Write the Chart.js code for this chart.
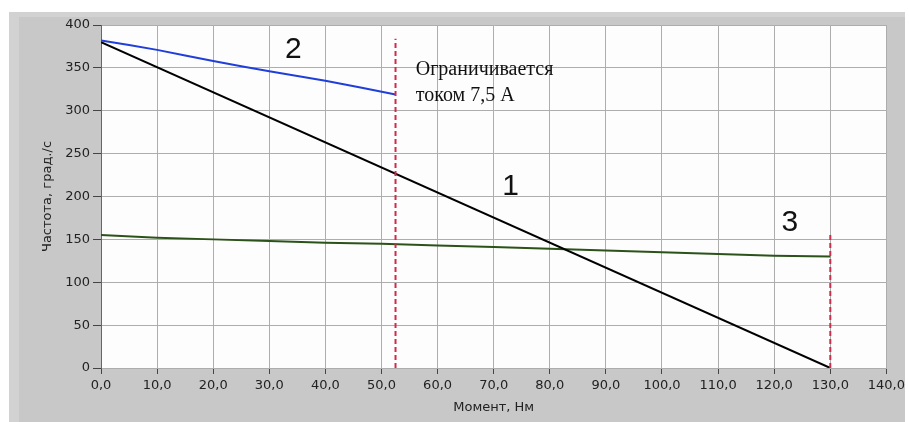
<!DOCTYPE html>
<html>
<head>
<meta charset="utf-8">
<script src="https://cdn.jsdelivr.net/npm/chart.js@4/dist/chart.umd.min.js"></script>
<style>
  html, body { margin: 0; padding: 0; background: #fff; }
  #wrap { width: 909px; height: 422px; }
</style>
</head>
<body>
<div id="wrap"><canvas id="motor-chart"></canvas></div>
<script>
// curve 1 - black
const torque1 = [0, 130];
const speed1 = [380, 0];
// curve 2 - blue (current limited)
const torque2 = [0, 10, 20, 30, 40, 52.5];
const speed2 = [382, 371, 358, 346, 335, 319];
// curve 3 - green
const torque3 = [0, 10, 20, 30, 40, 50, 60, 70, 80, 90, 100, 110, 120, 130];
const speed3 = [155, 152, 150, 148, 146, 145, 143, 141, 139, 137, 135, 133, 131, 130];
// red dashed limit lines
const limitA = { x: 52.5, top: 384 };
const limitB = { x: 130, top: 156 };

const xMin = 0, xMax = 140, xStep = 10;
const yMin = 0, yMax = 400, yStep = 50;

const curveLabels = [
  { text: '2', x: 34.3, y: 371 },
  { text: '1', x: 73, y: 211 },
  { text: '3', x: 122.8, y: 169 }
];
const noteLines = ['Ограничивается', 'током 7,5 А'];
const notePos = { x: 56.1, y: [348, 318] };

function toPoints(xs, ys) {
  return xs.map((x, i) => ({ x: x, y: ys[i] }));
}

const data = {
  datasets: [
    {
      label: 'limit A',
      data: [{ x: limitA.x, y: 0 }, { x: limitA.x, y: limitA.top }],
      borderColor: '#d3294a',
      borderWidth: 2,
      borderDash: [5, 3],
      pointRadius: 0
    },
    {
      label: 'limit B',
      data: [{ x: limitB.x, y: 0 }, { x: limitB.x, y: limitB.top }],
      borderColor: '#d3294a',
      borderWidth: 2,
      borderDash: [5, 3],
      pointRadius: 0
    },
    {
      label: '2',
      data: toPoints(torque2, speed2),
      borderColor: '#1f3fd8',
      borderWidth: 2,
      pointRadius: 0,
      tension: 0.2
    },
    {
      label: '1',
      data: toPoints(torque1, speed1),
      borderColor: '#000000',
      borderWidth: 2,
      pointRadius: 0
    },
    {
      label: '3',
      data: toPoints(torque3, speed3),
      borderColor: '#2b5219',
      borderWidth: 2,
      pointRadius: 0
    }
  ]
};

// gray frame and white plot area
const backdrop = {
  id: 'backdrop',
  beforeDraw(chart) {
    const { ctx, chartArea: a } = chart;
    ctx.save();
    ctx.fillStyle = '#ffffff';
    ctx.fillRect(0, 0, chart.width, chart.height);
    ctx.fillStyle = '#c8c8c8';
    ctx.fillRect(9, 12, chart.width - 13, chart.height - 12);
    ctx.fillStyle = '#d2d2d2';
    ctx.fillRect(9, 12, 10, chart.height - 12);
    ctx.fillRect(9, 12, chart.width - 13, 5);
    ctx.fillStyle = '#fdfdfd';
    ctx.fillRect(a.left, a.top, a.right - a.left, a.bottom - a.top);
    ctx.restore();
  }
};

// numbers and the note drawn in data coordinates
const notes = {
  id: 'notes',
  afterDatasetsDraw(chart) {
    const { ctx, scales: { x, y } } = chart;
    ctx.save();
    ctx.fillStyle = '#111';
    ctx.textAlign = 'center';
    ctx.textBaseline = 'middle';
    ctx.font = '30px "Liberation Sans", Arial, sans-serif';
    curveLabels.forEach(l => {
      ctx.fillText(l.text, x.getPixelForValue(l.x), y.getPixelForValue(l.y));
    });
    ctx.textAlign = 'left';
    ctx.font = '20px "Liberation Serif", "Times New Roman", serif';
    noteLines.forEach((t, i) => {
      ctx.fillText(t, x.getPixelForValue(notePos.x), y.getPixelForValue(notePos.y[i]));
    });
    ctx.restore();
  }
};

const tickFont = { family: '"DejaVu Sans", Tahoma, sans-serif', size: 13 };
const titleFont = { family: '"DejaVu Sans", Tahoma, sans-serif', size: 13 };

const config = {
  type: 'line',
  data: data,
  options: {
    responsive: true,
    maintainAspectRatio: false,
    animation: false,
    layout: { padding: { left: 9, top: 25, right: 22, bottom: 0 } },
    plugins: {
      legend: { display: false },
      tooltip: { enabled: false }
    },
    scales: {
      x: {
        type: 'linear',
        min: xMin,
        max: xMax,
        afterFit(scale) { scale.height = 54; },
        ticks: {
          stepSize: xStep,
          color: '#222',
          font: tickFont,
          padding: 4,
          maxRotation: 0,
          callback: v => v.toFixed(1).replace('.', ',')
        },
        grid: { color: '#adadad', tickColor: '#444', tickLength: 6 },
        border: { color: '#adadad' },
        title: {
          display: true,
          text: 'Момент, Нм',
          color: '#222',
          font: titleFont,
          padding: { top: 0, bottom: 7 }
        }
      },
      y: {
        min: yMin,
        max: yMax,
        afterFit(scale) { scale.width = 92; },
        ticks: {
          stepSize: yStep,
          color: '#222',
          font: tickFont,
          padding: 3
        },
        grid: { color: '#adadad', tickColor: '#444', tickLength: 8 },
        border: { color: '#666' },
        title: {
          display: true,
          text: 'Частота, град./с',
          color: '#222',
          font: titleFont,
          padding: { top: 31, bottom: 0 }
        }
      }
    }
  },
  plugins: [backdrop, notes]
};

const ctx = document.getElementById('motor-chart').getContext('2d');
const chart = new Chart(ctx, config);
</script>
</body>
</html>
